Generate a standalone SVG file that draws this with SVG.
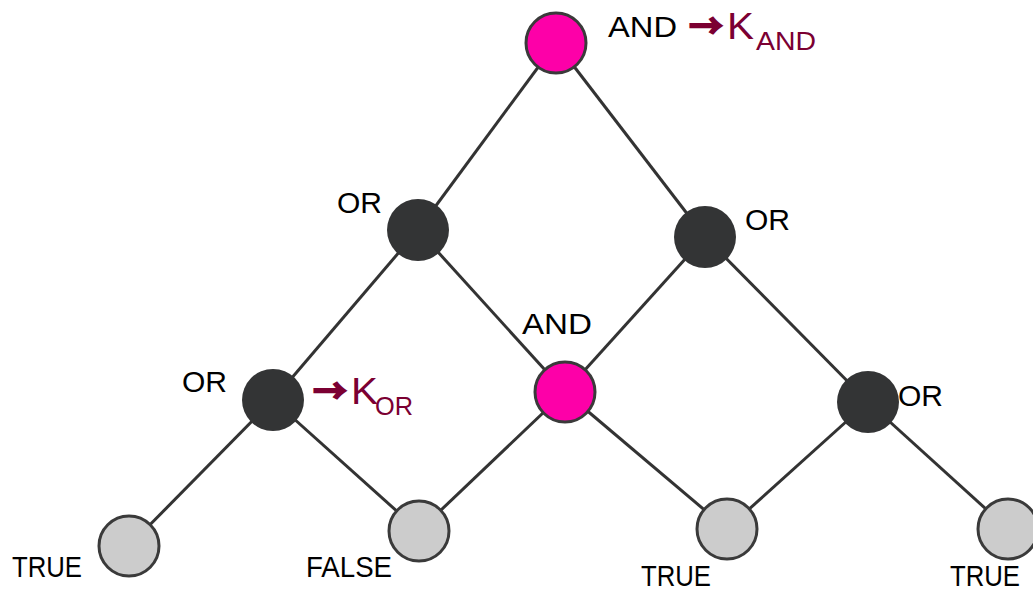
<svg xmlns="http://www.w3.org/2000/svg" width="1033" height="590" viewBox="0 0 1033 590">
<style>
.e{stroke:#333;stroke-width:3;fill:none}
.dark{fill:#333435}
.pink{fill:#fd00a8;stroke:#3a3a3a;stroke-width:3}
.leaf{fill:#cccccc;stroke:#3a3a3a;stroke-width:3}
.lb{font-family:"Liberation Sans",Arial,sans-serif;font-size:30px;fill:#000}
.k{font-family:"Liberation Sans",Arial,sans-serif;fill:#7b0032}
.ar{font-family:"Noto Sans CJK JP","DejaVu Sans",sans-serif;font-weight:bold;font-size:33px;stroke:#7b0032;stroke-width:1.8px}
</style>
<rect width="1033" height="590" fill="#fff"/>
<g id="connectors">
<line class="e" x1="556" y1="43" x2="418" y2="230"/>
<line class="e" x1="556" y1="43" x2="705" y2="237"/>
<line class="e" x1="418" y1="230" x2="273" y2="400"/>
<line class="e" x1="418" y1="230" x2="565" y2="392"/>
<line class="e" x1="705" y1="237" x2="565" y2="392"/>
<line class="e" x1="705" y1="237" x2="868" y2="402"/>
<line class="e" x1="273" y1="400" x2="129" y2="546"/>
<line class="e" x1="273" y1="400" x2="419" y2="531"/>
<line class="e" x1="565" y1="392" x2="419" y2="531"/>
<line class="e" x1="565" y1="392" x2="727" y2="529"/>
<line class="e" x1="868" y1="402" x2="727" y2="529"/>
<line class="e" x1="868" y1="402" x2="1008" y2="529"/>
</g>
<g id="n-and-top">
<circle class="pink" cx="556" cy="43" r="30"/>
<text class="lb" x="608" y="37" textLength="69" lengthAdjust="spacingAndGlyphs">AND</text>
<text class="k" x="689" y="38" font-size="36"><tspan class="ar" textLength="34" lengthAdjust="spacingAndGlyphs">→</tspan><tspan x="727" y="39" textLength="27" lengthAdjust="spacingAndGlyphs">K</tspan><tspan x="756" y="50" font-size="25" textLength="60" lengthAdjust="spacingAndGlyphs">AND</tspan></text>
</g>
<g id="n-or-left">
<circle class="dark" cx="418" cy="230" r="31"/>
<text class="lb" x="337" y="213" textLength="45" lengthAdjust="spacingAndGlyphs">OR</text>
</g>
<g id="n-or-right">
<circle class="dark" cx="705" cy="237" r="31"/>
<text class="lb" x="745" y="230" textLength="45" lengthAdjust="spacingAndGlyphs">OR</text>
</g>
<g id="n-or-lowleft">
<circle class="dark" cx="273" cy="400" r="31"/>
<text class="lb" x="182" y="392" textLength="45" lengthAdjust="spacingAndGlyphs">OR</text>
<text class="k" x="313" y="403" font-size="37"><tspan class="ar" textLength="34" lengthAdjust="spacingAndGlyphs">→</tspan><tspan x="351" y="404" textLength="27" lengthAdjust="spacingAndGlyphs">K</tspan><tspan x="375" y="415" font-size="25" textLength="38" lengthAdjust="spacingAndGlyphs">OR</tspan></text>
</g>
<g id="n-and-mid">
<circle class="pink" cx="565" cy="392" r="30"/>
<text class="lb" x="522" y="334" textLength="70" lengthAdjust="spacingAndGlyphs">AND</text>
</g>
<g id="n-or-lowright">
<circle class="dark" cx="868" cy="402" r="31"/>
<text class="lb" x="898" y="406" textLength="45" lengthAdjust="spacingAndGlyphs">OR</text>
</g>
<g id="leaf1">
<circle class="leaf" cx="129" cy="546" r="30"/>
<text class="lb" x="12" y="577" textLength="70" lengthAdjust="spacingAndGlyphs">TRUE</text>
</g>
<g id="leaf2">
<circle class="leaf" cx="419" cy="531" r="30"/>
<text class="lb" x="306" y="577" textLength="86" lengthAdjust="spacingAndGlyphs">FALSE</text>
</g>
<g id="leaf3">
<circle class="leaf" cx="727" cy="529" r="30"/>
<text class="lb" x="641" y="586" textLength="70" lengthAdjust="spacingAndGlyphs">TRUE</text>
</g>
<g id="leaf4">
<circle class="leaf" cx="1008" cy="529" r="30"/>
<text class="lb" x="950" y="586" textLength="70" lengthAdjust="spacingAndGlyphs">TRUE</text>
</g>
</svg>
